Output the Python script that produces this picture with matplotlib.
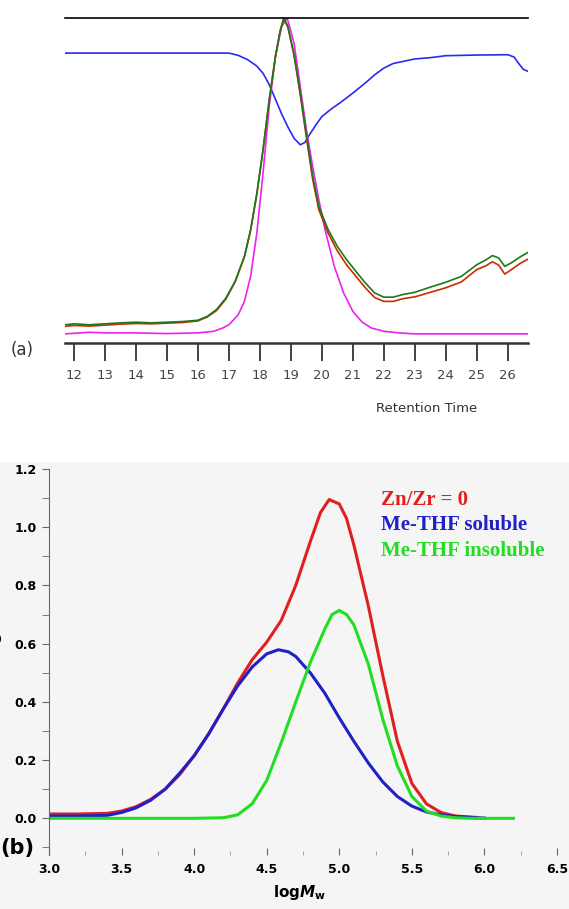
import matplotlib.pyplot as plt
from matplotlib.patches import Rectangle
from matplotlib.ticker import MultipleLocator

# (a) GPC traces vs retention time (normalised detector response)
rt_a = [11.7, 12.0, 12.5, 13.0, 13.5, 14.0, 14.5, 15.0, 15.5, 16.0, 16.3, 16.6,
        16.9, 17.2, 17.5, 17.7, 17.9, 18.1, 18.3, 18.5, 18.65, 18.77, 18.9, 19.1,
        19.3, 19.5, 19.7, 19.9, 20.2, 20.5, 20.8, 21.1, 21.4, 21.7, 22.0, 22.3,
        22.6, 23.0, 23.5, 24.0, 24.5, 25.0, 25.3, 25.5, 25.7, 25.9, 26.1, 26.4, 26.65]
green_a = [0.056, 0.059, 0.056, 0.059, 0.062, 0.064, 0.062, 0.064, 0.066, 0.070,
           0.082, 0.103, 0.138, 0.190, 0.267, 0.349, 0.460, 0.595, 0.749, 0.882,
           0.960, 1.000, 0.975, 0.890, 0.770, 0.640, 0.515, 0.420, 0.349, 0.297,
           0.256, 0.220, 0.185, 0.154, 0.141, 0.141, 0.149, 0.156, 0.172, 0.187,
           0.205, 0.241, 0.256, 0.269, 0.262, 0.236, 0.246, 0.265, 0.279]
red_a = [0.051, 0.054, 0.052, 0.055, 0.058, 0.060, 0.059, 0.061, 0.063, 0.068,
         0.080, 0.100, 0.135, 0.188, 0.265, 0.347, 0.458, 0.593, 0.747, 0.880,
         0.958, 0.998, 0.972, 0.885, 0.765, 0.632, 0.505, 0.410, 0.338, 0.283,
         0.240, 0.205, 0.170, 0.140, 0.128, 0.128, 0.136, 0.142, 0.156, 0.170,
         0.188, 0.226, 0.238, 0.250, 0.240, 0.212, 0.225, 0.245, 0.258]

rt_m = [11.7, 12.5, 13.0, 14.0, 15.0, 16.0, 16.5, 16.8, 17.0, 17.3, 17.5, 17.7,
        17.9, 18.1, 18.3, 18.5, 18.7, 18.88, 19.1, 19.3, 19.5, 19.7, 19.9, 20.1,
        20.4, 20.7, 21.0, 21.3, 21.6, 22.0, 22.5, 23.0, 26.65]
magenta_a = [0.028, 0.033, 0.031, 0.031, 0.029, 0.031, 0.036, 0.046, 0.056, 0.087,
             0.128, 0.205, 0.338, 0.523, 0.728, 0.882, 0.974, 1.000, 0.923, 0.790,
             0.656, 0.544, 0.441, 0.349, 0.236, 0.154, 0.097, 0.064, 0.046, 0.036,
             0.031, 0.028, 0.028]

rt_b = [11.7, 17.0, 17.3, 17.6, 17.9, 18.1, 18.3, 18.5, 18.7, 18.9, 19.1, 19.3,
        19.45, 19.6, 19.8, 20.0, 20.3, 20.6, 21.0, 21.4, 21.7, 22.0, 22.3, 22.7,
        23.0, 23.5, 24.0, 25.0, 26.0, 26.2, 26.35, 26.5, 26.65]
blue_a = [0.892, 0.892, 0.885, 0.872, 0.852, 0.830, 0.795, 0.750, 0.705, 0.665,
          0.630, 0.610, 0.617, 0.641, 0.670, 0.697, 0.720, 0.740, 0.769, 0.800,
          0.825, 0.846, 0.860, 0.868, 0.874, 0.878, 0.884, 0.886, 0.887, 0.880,
          0.860, 0.842, 0.836]
rt_ticks = list(range(12, 27))

# (b) molecular weight distributions
logm_red = [3.0, 3.2, 3.4, 3.5, 3.6, 3.7, 3.8, 3.9, 4.0, 4.1, 4.2, 4.3, 4.4, 4.5,
            4.6, 4.7, 4.8, 4.87, 4.93, 5.0, 5.05, 5.1, 5.2, 5.3, 5.4, 5.5, 5.6,
            5.7, 5.8, 5.95]
w_red = [0.015, 0.015, 0.017, 0.025, 0.040, 0.065, 0.100, 0.150, 0.215, 0.290,
         0.375, 0.465, 0.545, 0.605, 0.680, 0.800, 0.950, 1.050, 1.095, 1.080,
         1.030, 0.940, 0.730, 0.490, 0.265, 0.120, 0.050, 0.020, 0.008, 0.003]
logm_blue = [3.0, 3.2, 3.4, 3.5, 3.6, 3.7, 3.8, 3.9, 4.0, 4.1, 4.2, 4.3, 4.4, 4.5,
             4.58, 4.65, 4.7, 4.8, 4.9, 5.0, 5.1, 5.2, 5.3, 5.4, 5.5, 5.6, 5.7,
             5.8, 5.9, 6.0]
w_blue = [0.008, 0.008, 0.010, 0.020, 0.036, 0.062, 0.100, 0.155, 0.215, 0.290,
          0.375, 0.455, 0.520, 0.565, 0.579, 0.572, 0.556, 0.500, 0.430, 0.345,
          0.265, 0.190, 0.125, 0.075, 0.042, 0.022, 0.012, 0.006, 0.003, 0.001]
logm_green = [3.0, 4.0, 4.2, 4.3, 4.4, 4.5, 4.6, 4.7, 4.8, 4.9, 4.95, 5.0, 5.05,
              5.1, 5.2, 5.3, 5.4, 5.5, 5.6, 5.7, 5.8, 5.9, 6.2]
w_green = [0.0, 0.0, 0.002, 0.012, 0.050, 0.130, 0.260, 0.400, 0.535, 0.650,
           0.700, 0.714, 0.700, 0.665, 0.530, 0.340, 0.180, 0.075, 0.025, 0.008,
           0.002, 0.0, 0.0]
legend_labels = ["Zn/Zr = 0", "Me-THF soluble", "Me-THF insoluble"]
legend_colors = ["#e02020", "#2020c8", "#22dd22"]

W, H = 569, 909
fig = plt.figure(figsize=(W / 100, H / 100), dpi=100)
fig.patches.append(Rectangle((0, 0), 1, 1 - 462 / H, transform=fig.transFigure,
                             facecolor="#f5f5f5", edgecolor="none", zorder=-10))

# ---- panel (a)
ax1 = fig.add_axes([65 / W, 1 - 343 / H, 463 / W, 325 / H])
ax1.plot(rt_b, blue_a, color="#2a2af0", lw=1.2)
ax1.plot(rt_m, magenta_a, color="#ee22ee", lw=1.2)
ax1.plot(rt_a, red_a, color="#cc2a00", lw=1.2)
ax1.plot(rt_a, green_a, color="#1a7a1a", lw=1.2)
ax1.set_xlim(11.71, 26.65)
ax1.set_ylim(0, 1)
for s in ["left", "right"]:
    ax1.spines[s].set_visible(False)
ax1.spines["top"].set_linewidth(1.2)
ax1.spines["bottom"].set_linewidth(1.8)
ax1.spines["bottom"].set_color("#333333")
ax1.set_yticks([])
ax1.set_xticks(rt_ticks)
ax1.tick_params(axis="x", direction="out", length=13, width=1.3, color="#333333",
                labelsize=9.5, labelcolor="#444444", pad=6)
ax1.text(427 / W, 1 - 408 / H, "Retention Time", transform=fig.transFigure,
         ha="center", va="center", fontsize=9.5, color="#333333")
fig.text(22 / W, 1 - 350 / H, "(a)", ha="center", va="center", fontsize=12,
         color="#333333")

# ---- panel (b)
ax2 = fig.add_axes([49 / W, 1 - 855 / H, 508 / W, 386 / H])
ax2.set_facecolor("none")
ax2.plot(logm_red, w_red, color=legend_colors[0], lw=2.2)
ax2.plot(logm_blue, w_blue, color=legend_colors[1], lw=2.2)
ax2.plot(logm_green, w_green, color=legend_colors[2], lw=2.2)
for s in ["top", "right", "bottom"]:
    ax2.spines[s].set_visible(False)
ax2.spines["left"].set_color("#666666")
ax2.xaxis.set_major_locator(MultipleLocator(0.5))
ax2.xaxis.set_minor_locator(MultipleLocator(0.25))
ax2.yaxis.set_major_locator(MultipleLocator(0.2))
ax2.yaxis.set_minor_locator(MultipleLocator(0.1))
ax2.tick_params(axis="x", which="major", direction="in", length=5, color="#666666",
                labelsize=9, pad=6)
ax2.tick_params(axis="x", which="minor", direction="in", length=3, color="#999999")
ax2.tick_params(axis="y", which="both", direction="out", length=5, color="#666666",
                labelsize=9, pad=4)
ax2.set_xticks([3.0, 3.5, 4.0, 4.5, 5.0, 5.5, 6.0, 6.5])
ax2.set_xticklabels(["%.1f" % v for v in ax2.get_xticks()], fontweight="bold")
ax2.set_yticks([0.0, 0.2, 0.4, 0.6, 0.8, 1.0, 1.2])
ax2.set_yticklabels(["%.1f" % v for v in ax2.get_yticks()], fontweight="bold")
ax2.set_xlim(3.0, 6.5)
ax2.set_ylim(-0.126, 1.2)

fig.text(300 / W, 1 - 893 / H, r"log$\bfit{M}_\mathbf{w}$", ha="center", va="center",
         fontsize=11, fontweight="bold")
# y label sits mostly past the left edge of the figure
fig.text(-1.5 / W, 1 - 606 / H, r"dW/dlog$M_\mathrm{w}$", rotation=90,
         rotation_mode="anchor", ha="right", va="baseline", fontsize=12,
         fontweight="bold")
fig.text(0.5 / W, 1 - 848 / H, "(b)", ha="left", va="center", fontsize=15,
         fontweight="bold")

for i, (lab, col) in enumerate(zip(legend_labels, legend_colors)):
    fig.text(381 / W, 1 - (500 + 25.5 * i) / H, lab, color=col, ha="left",
             va="center", fontsize=15, fontweight="bold", family="Liberation Serif")

fig.savefig("out.png", dpi=100)
